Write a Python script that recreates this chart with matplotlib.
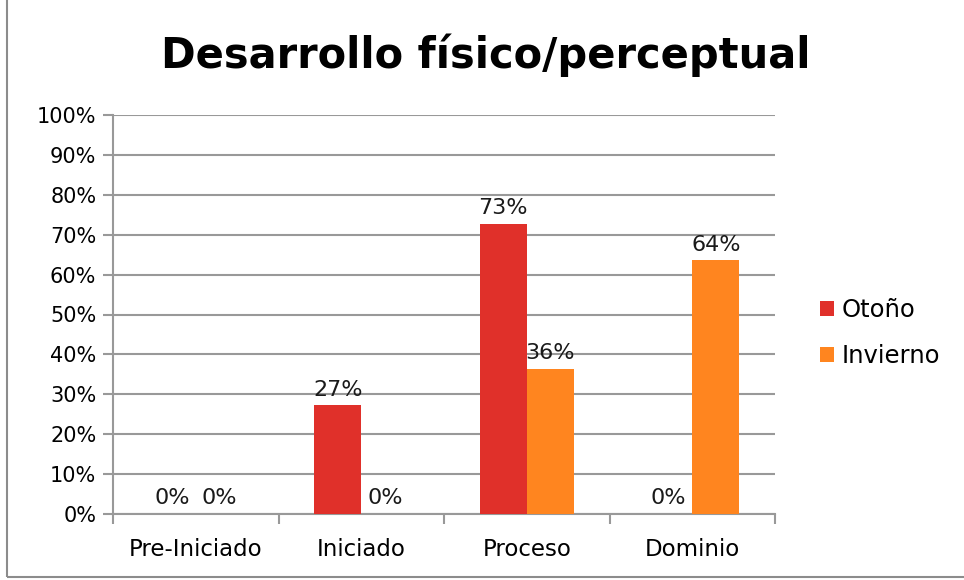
import matplotlib
matplotlib.use('Agg')
import matplotlib.pyplot as plt
from matplotlib.patches import Rectangle
from matplotlib.ticker import PercentFormatter
import numpy as np

# datos del grafico
categorias = ['Pre-Iniciado', 'Iniciado', 'Proceso', 'Dominio']
otono = [0.0, 0.273, 0.727, 0.0]
invierno = [0.0, 0.0, 0.364, 0.636]
series = ['Otoño', 'Invierno']
colores = ['#E0302A', '#FF851F']

plt.rcParams['font.family'] = ['DejaVu Sans']

fig = plt.figure(figsize=(9.64, 5.80), dpi=100)
ax = fig.add_axes([113/964, 66/580, 662/964, 399/580])

# marco del grafico
fig.patches.append(Rectangle((7/964, 3/580), 2, 2, transform=fig.transFigure,
                             fill=False, edgecolor='#8c8c8c', linewidth=1.5))

x = np.arange(len(categorias))
ancho = 0.284
barras1 = ax.bar(x - ancho/2, otono, ancho, color=colores[0], label=series[0], zorder=3)
barras2 = ax.bar(x + ancho/2, invierno, ancho, color=colores[1], label=series[1], zorder=3)

for barras in (barras1, barras2):
    for b in barras:
        h = b.get_height()
        ax.annotate(f'{h*100:.0f}%', (b.get_x() + b.get_width()/2, h),
                    xytext=(0, 4), textcoords='offset points',
                    ha='center', va='bottom', fontsize=16, color='#1a1a1a')

ax.set_xlim(-0.5, len(categorias) - 0.5)
ax.set_ylim(0, 1)
ax.set_yticks(np.arange(0, 1.01, 0.1))
ax.yaxis.set_major_formatter(PercentFormatter(1.0, decimals=0))
ax.grid(axis='y', color='#999999', linewidth=1.5, zorder=0)

ax.set_xticks(x)
ax.set_xticklabels(categorias)
ax.set_xticks(np.arange(-0.5, len(categorias)), minor=True)
ax.tick_params(axis='x', which='major', length=0, pad=17, labelsize=16.5)
ax.tick_params(axis='x', which='minor', length=7, width=1.5, color='#999999')
ax.tick_params(axis='y', length=7, width=1.5, color='#999999', labelsize=15, pad=5)

for lado in ['top', 'right']:
    ax.spines[lado].set_visible(False)
for lado in ['left', 'bottom']:
    ax.spines[lado].set_color('#999999')
    ax.spines[lado].set_linewidth(1.5)

fig.text(486/964, 1 - 55/580, 'Desarrollo físico/perceptual', ha='center', va='center',
         fontsize=30, fontweight='bold', color='black')

fig.legend(handles=[barras1, barras2], labels=series, loc='center left',
           bbox_to_anchor=(798/964, 1 - 333/580), frameon=False, fontsize=17.5,
           handlelength=0.6, handleheight=0.6, handletextpad=0.3, labelspacing=0.9)

fig.savefig('out.png', dpi=100)
